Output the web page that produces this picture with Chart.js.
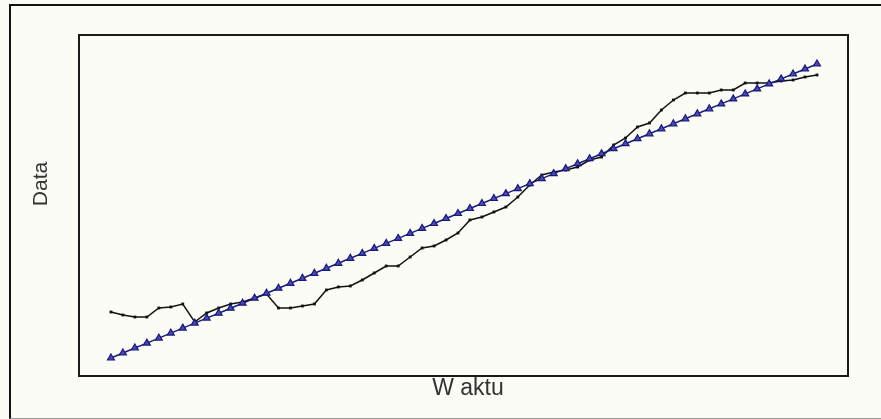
<!DOCTYPE html>
<html>
<head>
<meta charset="utf-8">
<script src="https://cdn.jsdelivr.net/npm/chart.js@4"></script>
<style>
  html, body { margin: 0; padding: 0; background: #fcfcf7; }
  #wrap { position: relative; width: 881px; height: 419px; overflow: hidden; }
  #frame { position: absolute; left: 9px; top: 4px; width: 900px; height: 412px;
           border-left: 2px solid #111; border-top: 2px solid #111; border-bottom: 1px solid #999; }
  canvas { position: absolute; left: 0; top: 0; }
</style>
</head>
<body>
<div id="wrap">
  <div id="frame"></div>
  <canvas id="chart" width="881" height="419"></canvas>
</div>
<script>
// waktu (indeks periode)
const periods = Array.from({ length: 60 }, (_, i) => i);

// data aktual (garis hitam)
const actual = [64, 61, 59, 59, 68, 69, 72, 54, 63, 68,
                72, 74, 78, 82, 68, 68, 70, 72, 86, 89,
                90, 96, 103, 110, 110, 119, 128, 130, 136, 143,
                156, 159, 164, 169, 179, 191, 201, 204, 206, 209,
                216, 219, 231, 238, 249, 253, 266, 276, 283, 283,
                283, 286, 286, 293, 293, 293, 295, 296, 299, 301];

// garis tren (segitiga biru)
const trend = [18.0, 23.0, 28.0, 32.9, 37.9, 42.9, 47.9, 52.9, 57.9, 62.8,
               67.8, 72.8, 77.8, 82.8, 87.8, 92.7, 97.7, 102.7, 107.7, 112.7,
               117.7, 122.6, 127.6, 132.6, 137.6, 142.6, 147.6, 152.5, 157.5, 162.5,
               167.5, 172.5, 177.5, 182.4, 187.4, 192.4, 197.4, 202.4, 207.4, 212.3,
               217.3, 222.3, 227.3, 232.3, 237.3, 242.2, 247.2, 252.2, 257.2, 262.2,
               267.2, 272.1, 277.1, 282.1, 287.1, 292.1, 297.1, 302.0, 307.0, 312.0];

const xTitle = "W aktu";
const yTitle = "Data";

// kotak area plot + judul sumbu
const frameAndTitles = {
  id: "frameAndTitles",
  afterDraw(chart) {
    const { ctx, chartArea: a } = chart;
    ctx.save();
    ctx.strokeStyle = "#1a1a1a";
    ctx.lineWidth = 2;
    ctx.strokeRect(a.left, a.top, a.right - a.left, a.bottom - a.top);
    ctx.fillStyle = "#333";
    ctx.textAlign = "center";
    ctx.textBaseline = "middle";
    ctx.font = "23px 'Liberation Sans', Arial, sans-serif";
    ctx.fillText(xTitle, 468, 389);
    ctx.font = "21px 'Liberation Sans', Arial, sans-serif";
    ctx.translate(41, 184);
    ctx.rotate(-Math.PI / 2);
    ctx.fillText(yTitle, 0, 0);
    ctx.restore();
  }
};

new Chart(document.getElementById("chart"), {
  type: "line",
  data: {
    labels: periods,
    datasets: [
      {
        label: "Tren",
        data: periods.map((p, i) => ({ x: p, y: trend[i] })),
        borderColor: "#1c1c80",
        borderWidth: 1.5,
        pointStyle: "triangle",
        pointRadius: 4,
        pointBackgroundColor: "#4a4aa8",
        pointBorderColor: "#1a1a78",
        pointBorderWidth: 1.2,
        tension: 0,
        order: 0
      },
      {
        label: "Aktual",
        data: periods.map((p, i) => ({ x: p, y: actual[i] })),
        borderColor: "#111",
        borderWidth: 1.5,
        pointStyle: "rect",
        pointRadius: 2,
        pointBackgroundColor: "#111",
        pointBorderColor: "#111",
        pointBorderWidth: 0,
        tension: 0,
        order: 1
      }
    ]
  },
  options: {
    responsive: false,
    animation: false,
    events: [],
    layout: { padding: { left: 79, right: 33, top: 35, bottom: 43 } },
    plugins: { legend: { display: false }, tooltip: { enabled: false } },
    scales: {
      x: { type: "linear", display: false, min: -2.67, max: 61.59 },
      y: { type: "linear", display: false, min: 0, max: 341 }
    }
  },
  plugins: [frameAndTitles]
});
</script>
</body>
</html>
